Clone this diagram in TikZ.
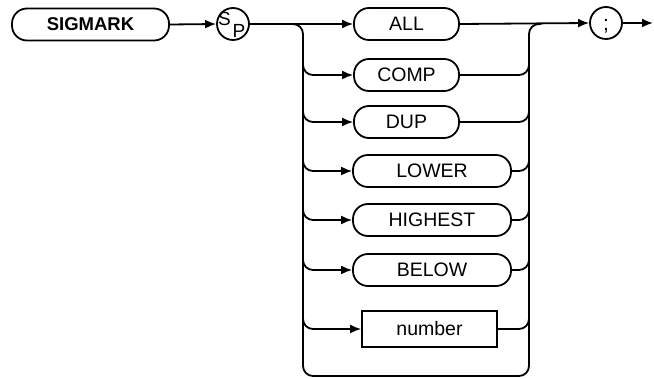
\documentclass[tikz,border=0pt]{standalone}
\usepackage{fontspec}
\setmainfont{Liberation Sans}
\usetikzlibrary{arrows.meta, calc}
\tikzset{
  keyword/.style={draw, rounded corners=15pt, line width=1.8pt, minimum height=32pt, inner sep=0pt},
  param/.style={draw, line width=1.8pt, minimum height=36pt, inner sep=0pt},
  circ/.style={draw, circle, line width=1.8pt, minimum size=32pt, inner sep=0pt},
  arrow/.style={-{Latex[length=11pt,width=9pt]}, line width=1.8pt},
  line/.style={line width=1.8pt},
  every node/.style={font=\fontsize{19.5}{22}\selectfont}
}

\begin{document}
\begin{tikzpicture}[x=1pt,y=-1pt]
    \useasboundingbox (0,0) rectangle (654,379);
    % command and separator
    \node[keyword, minimum width=157pt, font=\fontsize{18.5}{21}\selectfont\bfseries] (sigmark) at (90.5,24.5) {SIGMARK};
    \node[circ] (sp) at (233,24) {};
    \node[font=\fontsize{19}{21}\selectfont] (spS) at (224.5,18.5) {S};
    \node[font=\fontsize{19}{21}\selectfont] (spP) at (239,31) {P};
    % choices
    \node[keyword, minimum width=105pt] (all) at (406.5,24) {ALL};
    \node[keyword, minimum width=105pt] (comp) at (406.5,75) {COMP};
    \node[keyword, minimum width=105pt] (dup) at (406.5,122) {DUP};
    \node[keyword, minimum width=158pt] (lower) at (432,171) {LOWER};
    \node[keyword, minimum width=158pt] (highest) at (432,220) {HIGHEST};
    \node[keyword, minimum width=158pt] (below) at (432,270) {BELOW};
    \node[param, minimum width=135pt] (number) at (429.5,329) {number};
    \node[circ] (semi) at (606,23) {};
    \node[font=\fontsize{21}{23}\selectfont] (semiT) at (606,26) {;};
    \coordinate (stop) at (653,23);
    % buses
    \coordinate (ltop) at (303,24);
    \coordinate (lbot) at (303,376);
    \coordinate (rbot) at (529,376);
    \coordinate (rtop) at (529,24);

    \draw[arrow] (sigmark.east) -- (sp.west);
    \draw[arrow] (sp.east) -- (all.west);
    \draw[arrow] (all.east) -- (semi.west);
    \draw[arrow] (semi.east) -- (stop);
    \draw[line, rounded corners=10pt] ($(ltop)+(-12,0)$) -- (ltop) -- (lbot) -- (rbot) -- (rtop) -- ($(rtop)+(12,0)$);
    \foreach \n in {comp,dup,lower,highest,below,number} {
      \draw[arrow, rounded corners=10pt] ($(\n.west -| ltop)+(0,-14)$) |- (\n.west);
      \draw[line, rounded corners=10pt] (\n.east) -| ($(\n.east -| rtop)+(0,-14)$);
    }
\end{tikzpicture}
\end{document}
